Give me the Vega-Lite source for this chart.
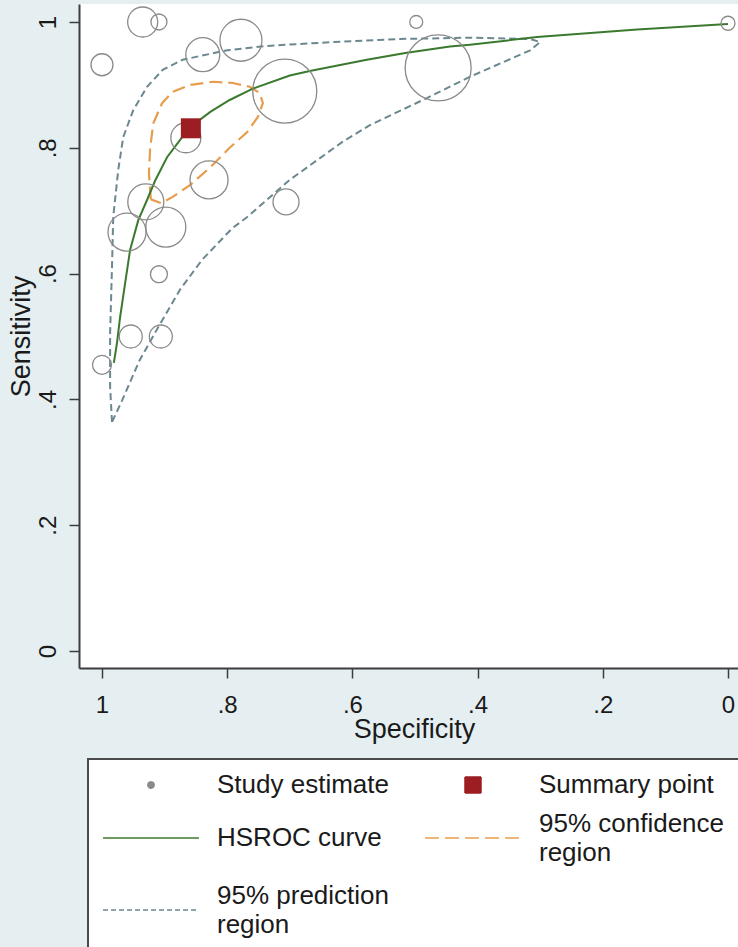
{
  "$schema": "https://vega.github.io/schema/vega-lite/v6.json",
  "width": 659,
  "height": 664,
  "autosize": {"type": "none"},
  "padding": {"left": 79, "top": 4, "right": 0, "bottom": 279},
  "background": "#e5eff1",
  "config": {
    "view": {"fill": "white", "stroke": null},
    "font": "Liberation Sans",
    "axis": {
      "grid": false,
      "domainColor": "#3d3d3d",
      "domainWidth": 2,
      "tickColor": "#3d3d3d",
      "tickWidth": 1.5,
      "tickSize": 10,
      "labelFont": "Liberation Sans",
      "labelFontSize": 24,
      "labelColor": "#1a1a1a",
      "labelFlush": false,
      "labelOverlap": false,
      "titleFont": "Liberation Sans",
      "titleFontSize": 27,
      "titleFontWeight": "normal",
      "titleColor": "#1a1a1a"
    }
  },
  "datasets": {
    "studies": [
      {"spec": 0.935, "sens": 1.0, "weight": 225},
      {"spec": 0.909, "sens": 1.0, "weight": 64},
      {"spec": 1.0, "sens": 0.932, "weight": 121},
      {"spec": 0.839, "sens": 0.948, "weight": 289},
      {"spec": 0.778, "sens": 0.971, "weight": 441},
      {"spec": 0.708, "sens": 0.89, "weight": 1024},
      {"spec": 0.866, "sens": 0.816, "weight": 225},
      {"spec": 0.829, "sens": 0.749, "weight": 361},
      {"spec": 0.706, "sens": 0.714, "weight": 169},
      {"spec": 0.93, "sens": 0.714, "weight": 324},
      {"spec": 0.96, "sens": 0.666, "weight": 361},
      {"spec": 0.898, "sens": 0.674, "weight": 400},
      {"spec": 0.909, "sens": 0.599, "weight": 72},
      {"spec": 0.954, "sens": 0.5, "weight": 132},
      {"spec": 0.906, "sens": 0.5, "weight": 132},
      {"spec": 1.0, "sens": 0.455, "weight": 90},
      {"spec": 0.498, "sens": 1.0, "weight": 42},
      {"spec": 0.463, "sens": 0.927, "weight": 1089},
      {"spec": 0.0, "sens": 0.998, "weight": 49}
    ],
    "summary": [{"spec": 0.858, "sens": 0.831}],
    "hsroc": [
      {"spec": 0.981, "sens": 0.458},
      {"spec": 0.976, "sens": 0.49},
      {"spec": 0.971, "sens": 0.531},
      {"spec": 0.963, "sens": 0.585},
      {"spec": 0.955, "sens": 0.638},
      {"spec": 0.942, "sens": 0.685},
      {"spec": 0.928, "sens": 0.717},
      {"spec": 0.915, "sens": 0.748},
      {"spec": 0.896, "sens": 0.785},
      {"spec": 0.871, "sens": 0.818},
      {"spec": 0.856, "sens": 0.835},
      {"spec": 0.827, "sens": 0.857},
      {"spec": 0.796, "sens": 0.876},
      {"spec": 0.759, "sens": 0.894},
      {"spec": 0.7, "sens": 0.915},
      {"spec": 0.668, "sens": 0.922},
      {"spec": 0.577, "sens": 0.94},
      {"spec": 0.513, "sens": 0.951},
      {"spec": 0.444, "sens": 0.961},
      {"spec": 0.412, "sens": 0.964},
      {"spec": 0.305, "sens": 0.976},
      {"spec": 0.145, "sens": 0.988},
      {"spec": 0.0, "sens": 0.997}
    ],
    "confidence": [
      {"i": 0, "spec": 0.922, "sens": 0.718},
      {"i": 1, "spec": 0.925, "sens": 0.76},
      {"i": 2, "spec": 0.923, "sens": 0.8},
      {"i": 3, "spec": 0.918, "sens": 0.839},
      {"i": 4, "spec": 0.904, "sens": 0.871},
      {"i": 5, "spec": 0.887, "sens": 0.889},
      {"i": 6, "spec": 0.859, "sens": 0.9},
      {"i": 7, "spec": 0.823, "sens": 0.905},
      {"i": 8, "spec": 0.791, "sens": 0.903},
      {"i": 9, "spec": 0.764, "sens": 0.897},
      {"i": 10, "spec": 0.748, "sens": 0.887},
      {"i": 11, "spec": 0.743, "sens": 0.871},
      {"i": 12, "spec": 0.751, "sens": 0.849},
      {"i": 13, "spec": 0.768, "sens": 0.825},
      {"i": 14, "spec": 0.796, "sens": 0.8},
      {"i": 15, "spec": 0.827, "sens": 0.769},
      {"i": 16, "spec": 0.859, "sens": 0.741},
      {"i": 17, "spec": 0.887, "sens": 0.722},
      {"i": 18, "spec": 0.905, "sens": 0.712},
      {"i": 19, "spec": 0.922, "sens": 0.718}
    ],
    "prediction": [
      {"i": 0, "spec": 0.984, "sens": 0.364},
      {"i": 1, "spec": 0.987, "sens": 0.42},
      {"i": 2, "spec": 0.987, "sens": 0.506},
      {"i": 3, "spec": 0.984, "sens": 0.61},
      {"i": 4, "spec": 0.982, "sens": 0.69},
      {"i": 5, "spec": 0.974, "sens": 0.765},
      {"i": 6, "spec": 0.966, "sens": 0.817},
      {"i": 7, "spec": 0.95, "sens": 0.86},
      {"i": 8, "spec": 0.928, "sens": 0.897},
      {"i": 9, "spec": 0.903, "sens": 0.924},
      {"i": 10, "spec": 0.871, "sens": 0.94},
      {"i": 11, "spec": 0.843, "sens": 0.946},
      {"i": 12, "spec": 0.8, "sens": 0.955},
      {"i": 13, "spec": 0.736, "sens": 0.962},
      {"i": 14, "spec": 0.631, "sens": 0.968},
      {"i": 15, "spec": 0.524, "sens": 0.973},
      {"i": 16, "spec": 0.412, "sens": 0.975},
      {"i": 17, "spec": 0.316, "sens": 0.973},
      {"i": 18, "spec": 0.3, "sens": 0.968},
      {"i": 19, "spec": 0.316, "sens": 0.955},
      {"i": 20, "spec": 0.412, "sens": 0.913},
      {"i": 21, "spec": 0.481, "sens": 0.879},
      {"i": 22, "spec": 0.572, "sens": 0.836},
      {"i": 23, "spec": 0.615, "sens": 0.81},
      {"i": 24, "spec": 0.7, "sens": 0.749},
      {"i": 25, "spec": 0.768, "sens": 0.69},
      {"i": 26, "spec": 0.792, "sens": 0.672},
      {"i": 27, "spec": 0.84, "sens": 0.622},
      {"i": 28, "spec": 0.875, "sens": 0.575},
      {"i": 29, "spec": 0.91, "sens": 0.515},
      {"i": 30, "spec": 0.94, "sens": 0.462},
      {"i": 31, "spec": 0.968, "sens": 0.398},
      {"i": 32, "spec": 0.984, "sens": 0.364}
    ]
  },
  "encoding": {
    "x": {
      "field": "spec",
      "type": "quantitative",
      "scale": {"domain": [-0.016, 1.0367], "reverse": true, "nice": false, "zero": false},
      "axis": {
        "values": [0, 0.2, 0.4, 0.6, 0.8, 1],
        "labelExpr": "datum.value == 0 ? '0' : datum.value == 1 ? '1' : replace(format(datum.value, '.1f'), '0.', '.')",
        "labelBaseline": "alphabetic",
        "labelPadding": 34,
        "title": "Specificity",
        "titleX": 335,
        "titleY": 69,
        "titleAlign": "center",
        "titleBaseline": "alphabetic"
      }
    },
    "y": {
      "field": "sens",
      "type": "quantitative",
      "scale": {"domain": [-0.027, 1.0286], "nice": false, "zero": false},
      "axis": {
        "values": [0, 0.2, 0.4, 0.6, 0.8, 1],
        "labelExpr": "datum.value == 0 ? '0' : datum.value == 1 ? '1' : replace(format(datum.value, '.1f'), '0.', '.')",
        "labelAngle": -90,
        "labelAlign": "center",
        "labelBaseline": "alphabetic",
        "labelPadding": 14,
        "title": "Sensitivity",
        "titleAngle": -90,
        "titleX": -50,
        "titleY": 332,
        "titleAlign": "center",
        "titleBaseline": "alphabetic"
      }
    }
  },
  "layer": [
    {
      "data": {"name": "prediction"},
      "mark": {"type": "line", "strokeWidth": 2, "strokeDash": [7, 4]},
      "encoding": {
        "order": {"field": "i", "type": "quantitative"},
        "color": {
          "datum": "95% prediction region",
          "type": "nominal",
          "scale": {
            "domain": ["Study estimate", "Summary point", "HSROC curve", "95% confidence region", "95% prediction region"],
            "range": ["#8a8a8a", "#9c1d22", "#3b7a2e", "#e79d4c", "#6b8890"]
          },
          "legend": {
            "orient": "none",
            "legendX": 9,
            "legendY": 755,
            "direction": "horizontal",
            "columns": 2,
            "title": " ",
            "titleOrient": "right",
            "titlePadding": 40,
            "titleFontSize": 10,
            "padding": 12,
            "strokeColor": "#4a4a4a",
            "fillColor": "white",
            "labelFont": "Liberation Sans",
            "labelFontSize": 26,
            "labelColor": "#1a1a1a",
            "labelLimit": 500,
            "symbolOffset": 37,
            "labelOffset": 52,
            "columnPadding": 33,
            "rowPadding": 8,
            "labelExpr": "datum.label === '95% confidence region' ? ['95% confidence', 'region'] : datum.label === '95% prediction region' ? ['95% prediction', 'region'] : datum.label",
            "encode": {
              "legend": {"update": {"strokeWidth": {"value": 2}}},
              "symbols": {
                "update": {
                  "shape": {"signal": "datum.value === 'Study estimate' ? 'circle' : datum.value === 'Summary point' ? 'square' : 'M-3.69,0H3.69M0,-2.2M0,2.2'"},
                  "size": {"signal": "datum.value === 'Study estimate' ? 40 : datum.value === 'Summary point' ? 256 : 676"},
                  "fill": {"signal": "datum.value === 'Summary point' ? '#b0232b' : 'transparent'"},
                  "stroke": {"signal": "datum.value === 'Summary point' ? 'transparent' : scale('color', datum.value)"},
                  "strokeDash": {"signal": "datum.value === '95% confidence region' ? [14, 6] : datum.value === '95% prediction region' ? [5, 3] : [1, 0]"},
                  "opacity": {"value": 1}
                }
              },
              "labels": {
                "update": {
                  "lineHeight": {"value": 29},
                  "dy": {"signal": "datum.value === '95% confidence region' || datum.value === '95% prediction region' ? -14.5 : 0"}
                }
              }
            }
          }
        }
      }
    },
    {
      "data": {"name": "confidence"},
      "mark": {"type": "line", "strokeWidth": 2.2, "strokeDash": [13, 6]},
      "encoding": {
        "order": {"field": "i", "type": "quantitative"},
        "color": {"datum": "95% confidence region", "type": "nominal"}
      }
    },
    {
      "data": {"name": "hsroc"},
      "mark": {"type": "line", "strokeWidth": 2},
      "encoding": {
        "color": {"datum": "HSROC curve", "type": "nominal"}
      }
    },
    {
      "data": {"name": "studies"},
      "mark": {"type": "point", "shape": "circle", "filled": false, "strokeWidth": 1.3, "opacity": 1},
      "encoding": {
        "color": {"datum": "Study estimate", "type": "nominal"},
        "size": {
          "field": "weight",
          "type": "quantitative",
          "scale": {"type": "linear", "domain": [0, 1000], "range": [0, 4000], "zero": true},
          "legend": null
        }
      }
    },
    {
      "data": {"name": "summary"},
      "mark": {"type": "square", "filled": true, "size": 400, "opacity": 1},
      "encoding": {
        "color": {"datum": "Summary point", "type": "nominal"}
      }
    }
  ]
}
